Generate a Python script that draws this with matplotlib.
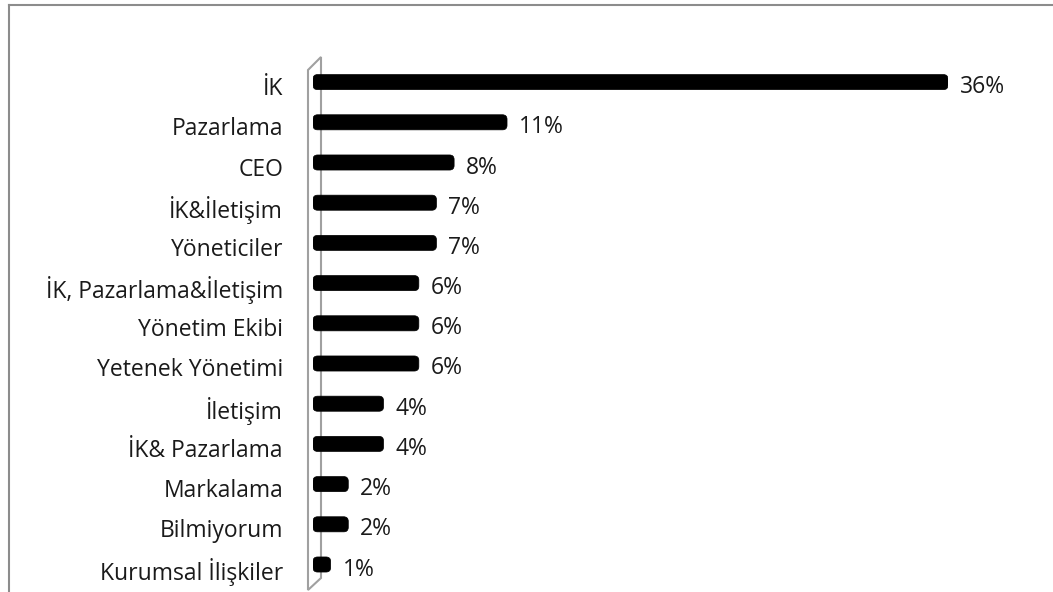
import matplotlib
matplotlib.use("Agg")
import matplotlib.pyplot as plt
from matplotlib.patches import FancyBboxPatch, Polygon
from matplotlib.lines import Line2D

categories = ["İK", "Pazarlama", "CEO", "İK&İletişim", "Yöneticiler",
              "İK, Pazarlama&İletişim", "Yönetim Ekibi", "Yetenek Yönetimi",
              "İletişim", "İK& Pazarlama", "Markalama", "Bilmiyorum",
              "Kurumsal İlişkiler"]
values = [36, 11, 8, 7, 7, 6, 6, 6, 4, 4, 2, 2, 1]
value_labels = ["36%", "11%", "8%", "7%", "7%", "6%", "6%", "6%", "4%", "4%", "2%", "2%", "1%"]

plt.rcParams['font.family'] = ['Open Sans', 'DejaVu Sans']

W, H = 1053, 592
fig = plt.figure(figsize=(W / 100, H / 100), dpi=100)
fig.patch.set_facecolor('white')

def fx(px):
    return px / W

def fy(py):
    return 1 - py / H

# outer frame (top and left visible)
fig.add_artist(Line2D([fx(8.5), fx(W)], [fy(4.5), fy(4.5)], color='#8c8c8c', lw=1.5))
fig.add_artist(Line2D([fx(8.5), fx(8.5)], [fy(4.5), fy(H)], color='#8c8c8c', lw=1.5))

# 3D wall
wall = Polygon([(fx(308), fy(70)), (fx(321), fy(57)), (fx(321), fy(578)), (fx(308), fy(590))],
               closed=True, facecolor='white', edgecolor='#a0a0a0', lw=1.5,
               transform=fig.transFigure, zorder=-5)
fig.add_artist(wall)

ax = fig.add_axes([fx(313), fy(584.6), (948 - 313) / W, (584.6 - 62) / H])
ax.set_zorder(5)
ax.set_xlim(0, 36)
ax.set_ylim(len(categories) - 0.5, -0.5)
ax.axis('off')
ax.patch.set_alpha(0)

ypos = list(range(len(categories)))
bars = ax.barh(ypos, values, height=0.375, color='black')
for b in bars:
    x0, y0 = b.get_x(), b.get_y()
    w, h = b.get_width(), b.get_height()
    b.set_visible(False)
    p = FancyBboxPatch((x0, y0), w, h,
                       boxstyle="round,pad=0,rounding_size=0.26",
                       mutation_aspect=0.43, facecolor='black', edgecolor='black', lw=0.5)
    ax.add_patch(p)

for i, (cat, v, vl) in enumerate(zip(categories, values, value_labels)):
    ax.annotate(cat, xy=(0, i), xycoords=('axes fraction', 'data'),
                xytext=(-30, -7), textcoords='offset pixels',
                ha='right', va='center', fontsize=16.5, color='#1a1a1a')
    ax.annotate(vl, xy=(v, i), xycoords='data',
                xytext=(12, -5), textcoords='offset pixels',
                ha='left', va='center', fontsize=16.5, color='#1a1a1a')

fig.savefig("out.png", dpi=100, facecolor='white')
